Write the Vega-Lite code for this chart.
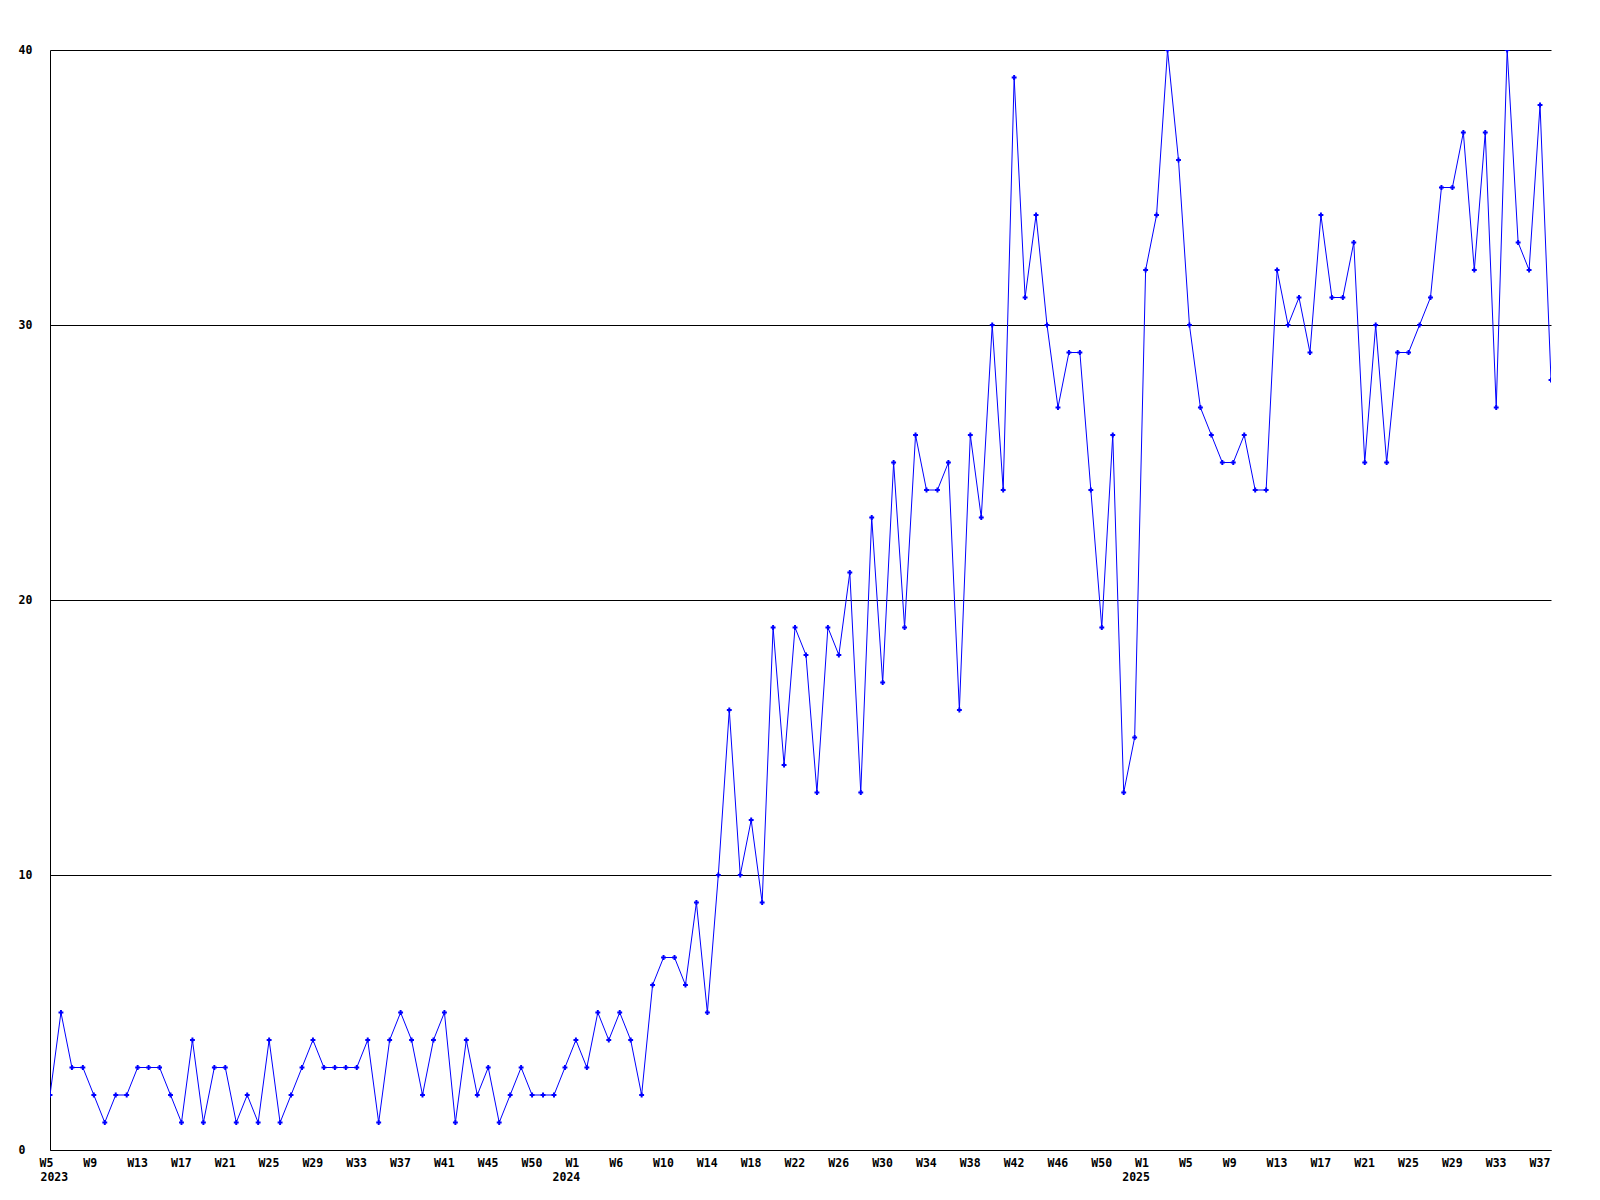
{
  "$schema": "https://vega.github.io/schema/vega-lite/v6.json",
  "autosize": {"type": "none"},
  "padding": {"left": 50, "top": 50, "right": 49, "bottom": 50},
  "width": 1501,
  "height": 1100,
  "background": "white",
  "config": {
    "view": {"stroke": null},
    "axis": {
      "labelFont": "DejaVu Sans Mono",
      "labelFontWeight": "bold",
      "labelFontSize": 11.5,
      "labelColor": "black",
      "labelAngle": 0,
      "domainColor": "black",
      "domainWidth": 1,
      "ticks": false,
      "tickSize": 0,
      "title": null,
      "labelOverlap": false,
      "labelFlush": false,
      "labelBound": false
    }
  },
  "data": {"values": [
    {"week":"2023-W05","n":2},{"week":"2023-W06","n":5},{"week":"2023-W07","n":3},{"week":"2023-W08","n":3},
    {"week":"2023-W09","n":2},{"week":"2023-W10","n":1},{"week":"2023-W11","n":2},{"week":"2023-W12","n":2},
    {"week":"2023-W13","n":3},{"week":"2023-W14","n":3},{"week":"2023-W15","n":3},{"week":"2023-W16","n":2},
    {"week":"2023-W17","n":1},{"week":"2023-W18","n":4},{"week":"2023-W19","n":1},{"week":"2023-W20","n":3},
    {"week":"2023-W21","n":3},{"week":"2023-W22","n":1},{"week":"2023-W23","n":2},{"week":"2023-W24","n":1},
    {"week":"2023-W25","n":4},{"week":"2023-W26","n":1},{"week":"2023-W27","n":2},{"week":"2023-W28","n":3},
    {"week":"2023-W29","n":4},{"week":"2023-W30","n":3},{"week":"2023-W31","n":3},{"week":"2023-W32","n":3},
    {"week":"2023-W33","n":3},{"week":"2023-W34","n":4},{"week":"2023-W35","n":1},{"week":"2023-W36","n":4},
    {"week":"2023-W37","n":5},{"week":"2023-W38","n":4},{"week":"2023-W39","n":2},{"week":"2023-W40","n":4},
    {"week":"2023-W41","n":5},{"week":"2023-W42","n":1},{"week":"2023-W43","n":4},{"week":"2023-W44","n":2},
    {"week":"2023-W45","n":3},{"week":"2023-W46","n":1},{"week":"2023-W47","n":2},{"week":"2023-W48","n":3},
    {"week":"2023-W49","n":2},{"week":"2023-W50","n":2},{"week":"2023-W51","n":2},{"week":"2023-W52","n":3},
    {"week":"2024-W01","n":4},{"week":"2024-W02","n":3},{"week":"2024-W03","n":5},{"week":"2024-W04","n":4},
    {"week":"2024-W05","n":5},{"week":"2024-W06","n":4},{"week":"2024-W07","n":2},{"week":"2024-W08","n":6},
    {"week":"2024-W09","n":7},{"week":"2024-W10","n":7},{"week":"2024-W11","n":6},{"week":"2024-W12","n":9},
    {"week":"2024-W13","n":5},{"week":"2024-W14","n":10},{"week":"2024-W15","n":16},{"week":"2024-W16","n":10},
    {"week":"2024-W17","n":12},{"week":"2024-W18","n":9},{"week":"2024-W19","n":19},{"week":"2024-W20","n":14},
    {"week":"2024-W21","n":19},{"week":"2024-W22","n":18},{"week":"2024-W23","n":13},{"week":"2024-W24","n":19},
    {"week":"2024-W25","n":18},{"week":"2024-W26","n":21},{"week":"2024-W27","n":13},{"week":"2024-W28","n":23},
    {"week":"2024-W29","n":17},{"week":"2024-W30","n":25},{"week":"2024-W31","n":19},{"week":"2024-W32","n":26},
    {"week":"2024-W33","n":24},{"week":"2024-W34","n":24},{"week":"2024-W35","n":25},{"week":"2024-W36","n":16},
    {"week":"2024-W37","n":26},{"week":"2024-W38","n":23},{"week":"2024-W39","n":30},{"week":"2024-W40","n":24},
    {"week":"2024-W41","n":39},{"week":"2024-W42","n":31},{"week":"2024-W43","n":34},{"week":"2024-W44","n":30},
    {"week":"2024-W45","n":27},{"week":"2024-W46","n":29},{"week":"2024-W47","n":29},{"week":"2024-W48","n":24},
    {"week":"2024-W49","n":19},{"week":"2024-W50","n":26},{"week":"2024-W51","n":13},{"week":"2024-W52","n":15},
    {"week":"2025-W01","n":32},{"week":"2025-W02","n":34},{"week":"2025-W03","n":40},{"week":"2025-W04","n":36},
    {"week":"2025-W05","n":30},{"week":"2025-W06","n":27},{"week":"2025-W07","n":26},{"week":"2025-W08","n":25},
    {"week":"2025-W09","n":25},{"week":"2025-W10","n":26},{"week":"2025-W11","n":24},{"week":"2025-W12","n":24},
    {"week":"2025-W13","n":32},{"week":"2025-W14","n":30},{"week":"2025-W15","n":31},{"week":"2025-W16","n":29},
    {"week":"2025-W17","n":34},{"week":"2025-W18","n":31},{"week":"2025-W19","n":31},{"week":"2025-W20","n":33},
    {"week":"2025-W21","n":25},{"week":"2025-W22","n":30},{"week":"2025-W23","n":25},{"week":"2025-W24","n":29},
    {"week":"2025-W25","n":29},{"week":"2025-W26","n":30},{"week":"2025-W27","n":31},{"week":"2025-W28","n":35},
    {"week":"2025-W29","n":35},{"week":"2025-W30","n":37},{"week":"2025-W31","n":32},{"week":"2025-W32","n":37},
    {"week":"2025-W33","n":27},{"week":"2025-W34","n":40},{"week":"2025-W35","n":33},{"week":"2025-W36","n":32},
    {"week":"2025-W37","n":38},{"week":"2025-W38","n":28}
  ]},
  "encoding": {
    "y": {
      "field": "n", "type": "quantitative",
      "scale": {"domain": [0, 40], "nice": false, "zero": true},
      "axis": {
        "values": [0, 10, 20, 30, 40],
        "grid": true,
        "gridColor": "black",
        "gridOpacity": 1,
        "gridWidth": 1,
        "labelAlign": "left",
        "labelBaseline": "middle",
        "labelPadding": 32,
        "domain": true
      }
    }
  },
  "layer": [
    {
      "mark": {"type": "line", "color": "#0000ff", "strokeWidth": 1, "clip": true},
      "encoding": {
        "x": {
          "field": "week", "type": "nominal", "sort": null,
          "scale": {"type": "point", "padding": 0},
          "axis": {
            "orient": "bottom",
            "values": ["2023-W05","2023-W09","2023-W13","2023-W17","2023-W21","2023-W25","2023-W29","2023-W33","2023-W37","2023-W41","2023-W45","2023-W49",
                       "2024-W01","2024-W05","2024-W09","2024-W13","2024-W17","2024-W21","2024-W25","2024-W29","2024-W33","2024-W37","2024-W41","2024-W45","2024-W49",
                       "2025-W01","2025-W05","2025-W09","2025-W13","2025-W17","2025-W21","2025-W25","2025-W29","2025-W33","2025-W37"],
            "labelExpr": "datum.value == '2023-W49' ? 'W50' : ((slice(datum.value,0,4) == '2024' && datum.value != '2024-W01') ? 'W' + (toNumber(slice(datum.value,6)) + 1) : 'W' + toNumber(slice(datum.value,6)))",
            "labelAngle": 0,
            "labelAlign": "left",
            "labelBaseline": "top",
            "labelOffset": -11,
            "labelPadding": 7.5,
            "grid": false,
            "domain": true
          }
        }
      }
    },
    {
      "mark": {"type": "point", "shape": "cross", "filled": true, "size": 24, "color": "#0000ff", "opacity": 1, "clip": true},
      "encoding": {
        "x": {
          "field": "week", "type": "nominal", "sort": null,
          "scale": {"type": "point", "padding": 0},
          "axis": {
            "orient": "bottom",
            "values": ["2023-W05", "2024-W01", "2025-W01"],
            "labelExpr": "slice(datum.value,0,4)",
            "labelAngle": 0,
            "labelAlign": {"condition": {"test": "datum.value == '2023-W05'", "value": "left"}, "value": "center"},
            "labelBaseline": "top",
            "labelOffset": -10,
            "labelPadding": 21,
            "grid": false,
            "domain": false
          }
        }
      }
    }
  ],
  "resolve": {"axis": {"x": "independent"}}
}
